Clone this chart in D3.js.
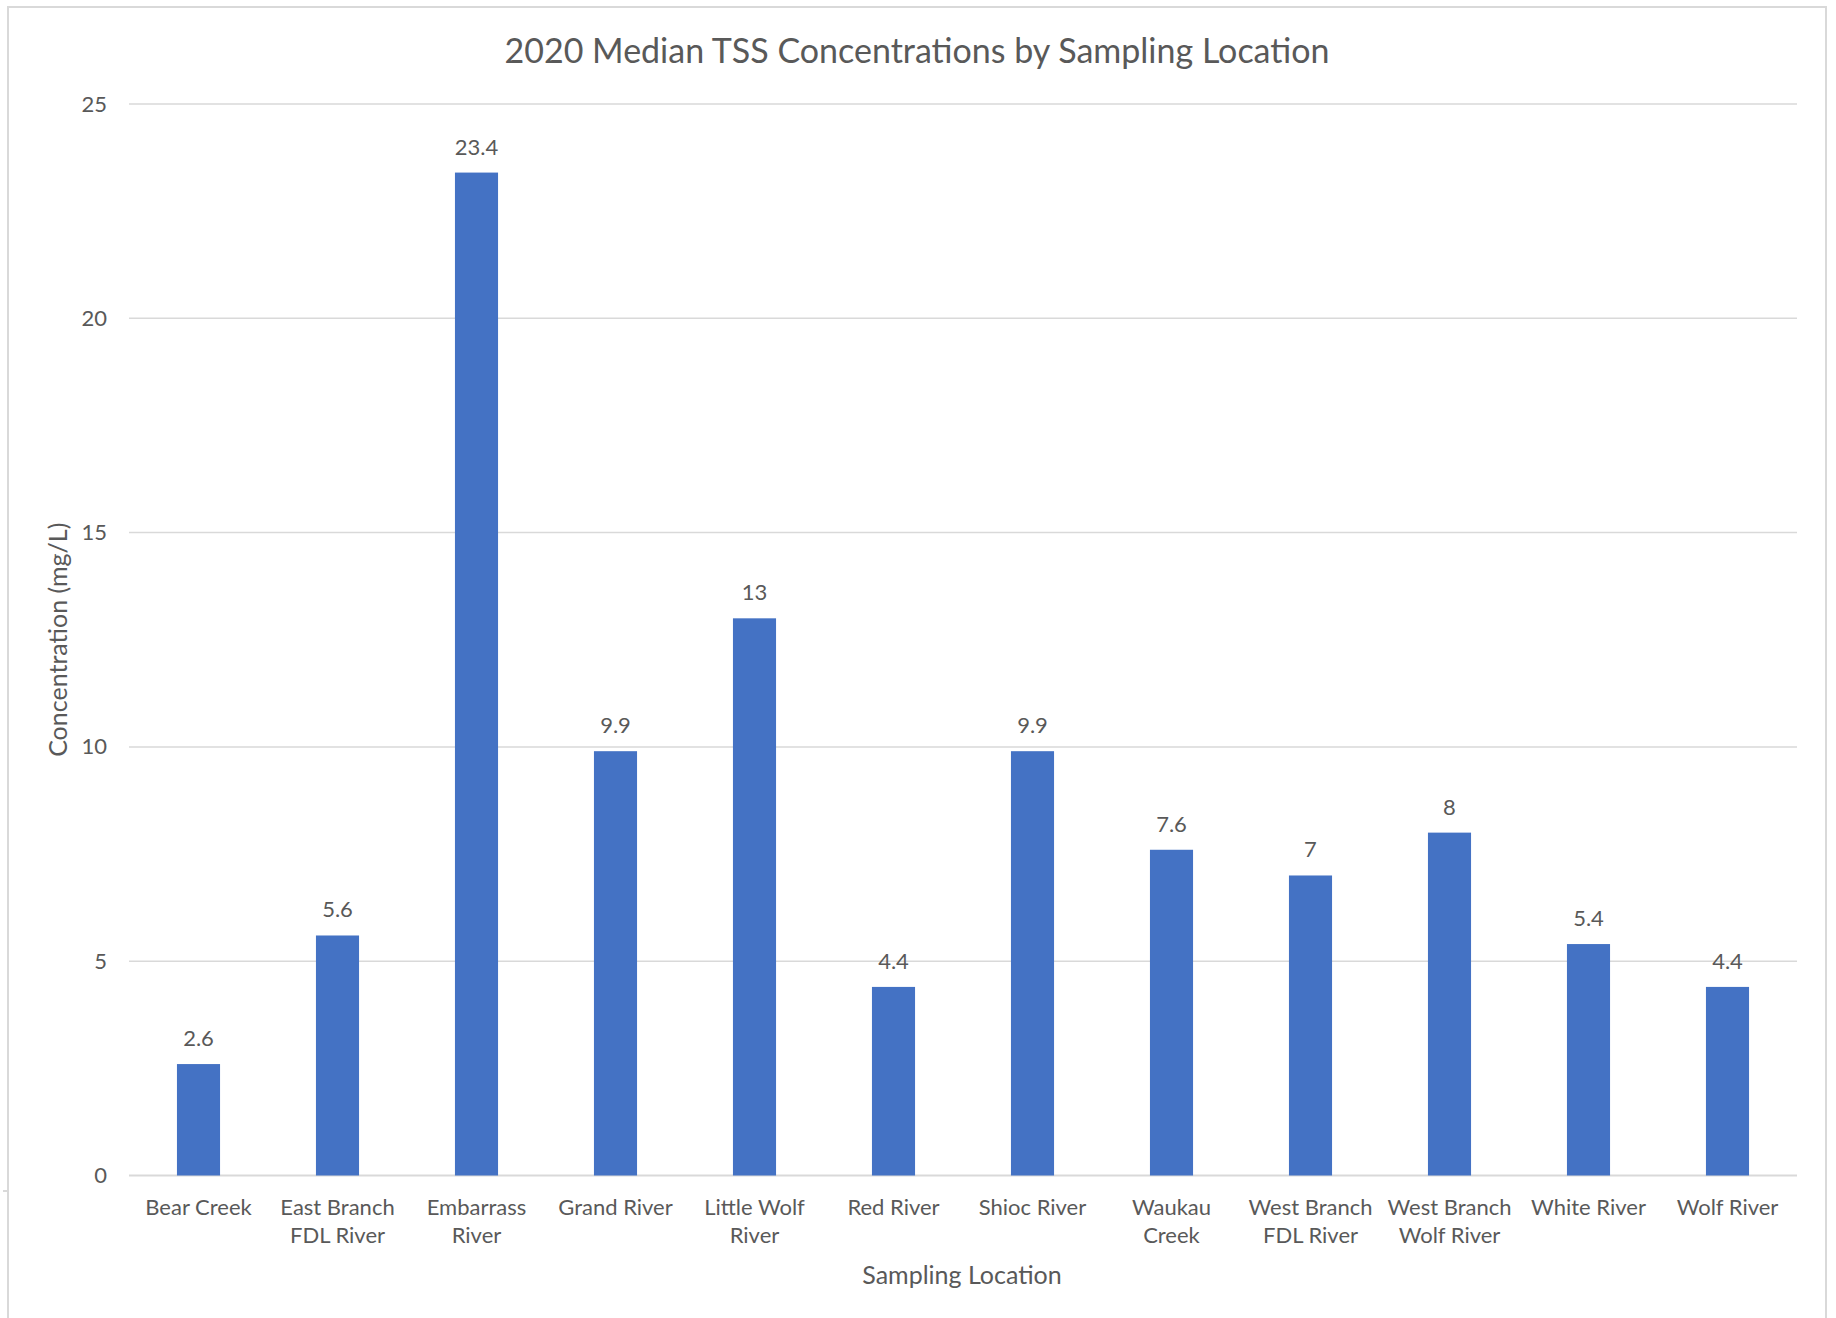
<!DOCTYPE html>
<html>
<head>
<meta charset="utf-8">
<script src="https://cdn.jsdelivr.net/npm/d3@7"></script>
<style>
  body { margin: 0; background: #fff; }
  text { font-family: Lato, "Open Sans", sans-serif; fill: #595959; }
</style>
</head>
<body>
<div id="chart"></div>
<script>
const locations = [
  ["Bear Creek"], ["East Branch", "FDL River"], ["Embarrass", "River"], ["Grand River"],
  ["Little Wolf", "River"], ["Red River"], ["Shioc River"], ["Waukau", "Creek"],
  ["West Branch", "FDL River"], ["West Branch", "Wolf River"], ["White River"], ["Wolf River"]
];
const tss = [2.6, 5.6, 23.4, 9.9, 13, 4.4, 9.9, 7.6, 7, 8, 5.4, 4.4];
const yTicks = [0, 5, 10, 15, 20, 25];

const width = 1836, height = 1318;
const margin = { top: 104, right: 39, bottom: 142, left: 129 };

const svg = d3.select("#chart").append("svg")
  .attr("width", width)
  .attr("height", height);

// chart area border (no bottom edge visible)
svg.append("path")
  .attr("d", `M8,${height} V7 H1826 V${height}`)
  .attr("fill", "none")
  .attr("stroke", "#d9d9d9")
  .attr("stroke-width", 2);
svg.append("line")
  .attr("x1", 3).attr("x2", 8).attr("y1", 1191).attr("y2", 1191)
  .attr("stroke", "#d9d9d9").attr("stroke-width", 2);

const names = locations.map(d => d.join(" "));

const x = d3.scaleBand()
  .domain(names)
  .range([margin.left, width - margin.right])
  .paddingInner(0.69)
  .paddingOuter(0.345);

const y = d3.scaleLinear()
  .domain([0, 25])
  .range([height - margin.bottom - 0.5, margin.top]);

// gridlines
svg.selectAll("line.grid")
  .data(yTicks)
  .enter().append("line")
  .attr("class", "grid")
  .attr("x1", margin.left)
  .attr("x2", width - margin.right)
  .attr("y1", d => y(d))
  .attr("y2", d => y(d))
  .attr("stroke", "#d9d9d9")
  .attr("stroke-width", d => d === 0 ? 2 : 1.5);

// y tick labels
svg.selectAll("text.ytick")
  .data(yTicks)
  .enter().append("text")
  .attr("class", "ytick")
  .attr("x", 107)
  .attr("y", d => y(d) + 7.5)
  .attr("text-anchor", "end")
  .attr("font-size", 22)
  .text(d => d);

// bars
svg.selectAll("rect.bar")
  .data(tss)
  .enter().append("rect")
  .attr("class", "bar")
  .attr("x", (d, i) => x(names[i]))
  .attr("width", x.bandwidth())
  .attr("y", d => y(d))
  .attr("height", d => y(0) - y(d))
  .attr("fill", "#4472c4");

// value labels
svg.selectAll("text.val")
  .data(tss)
  .enter().append("text")
  .attr("class", "val")
  .attr("x", (d, i) => x(names[i]) + x.bandwidth() / 2)
  .attr("y", d => y(d) - 18)
  .attr("text-anchor", "middle")
  .attr("font-size", 22)
  .text(d => d);

// category labels, one or two lines
const cat = svg.selectAll("text.cat")
  .data(locations)
  .enter().append("text")
  .attr("class", "cat")
  .attr("text-anchor", "middle")
  .attr("font-size", 22)
  .attr("x", (d, i) => x(names[i]) + x.bandwidth() / 2)
  .attr("y", 1215);
cat.selectAll("tspan")
  .data(d => d)
  .enter().append("tspan")
  .attr("x", function() { return this.parentNode.getAttribute("x"); })
  .attr("dy", (d, i) => i === 0 ? 0 : 28)
  .text(d => d);

// titles
svg.append("text")
  .attr("x", 917)
  .attr("y", 63)
  .attr("text-anchor", "middle")
  .attr("font-size", 34)
  .text("2020 Median TSS Concentrations by Sampling Location");

svg.append("text")
  .attr("x", 962)
  .attr("y", 1284)
  .attr("text-anchor", "middle")
  .attr("font-size", 25)
  .text("Sampling Location");

svg.append("text")
  .attr("transform", `translate(67,${(y(0) + y(25)) / 2}) rotate(-90)`)
  .attr("text-anchor", "middle")
  .attr("font-size", 25)
  .text("Concentration (mg/L)");
</script>
</body>
</html>
